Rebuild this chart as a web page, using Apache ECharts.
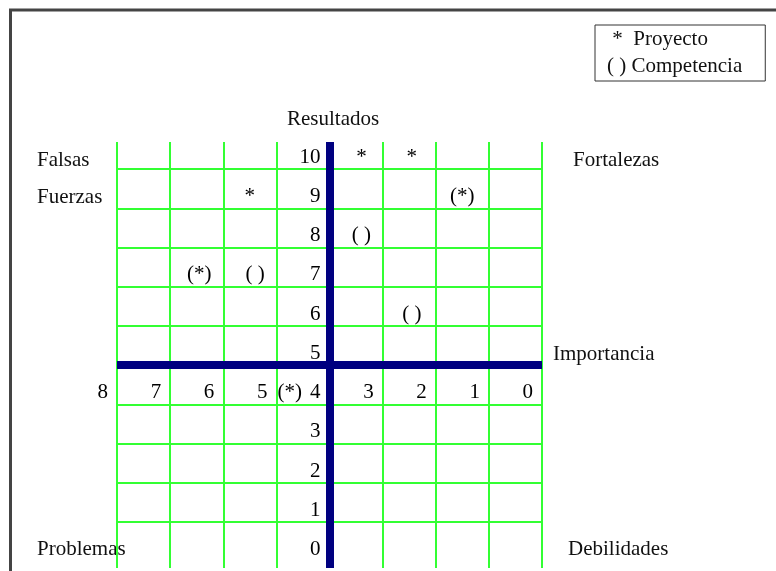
<!DOCTYPE html>
<html>
<head>
<meta charset="utf-8">
<script src="https://cdn.jsdelivr.net/npm/echarts@6/dist/echarts.min.js"></script>
<style>
  html, body { margin: 0; padding: 0; background: #fff; }
  #chart { width: 776px; height: 571px; }
</style>
</head>
<body>
<div id="chart"></div>
<script>
// Importancia runs 8 -> 0 left to right, Resultados 0 -> 10 bottom to top
const importancia = [8, 7, 6, 5, 4, 3, 2, 1, 0];
const resultados = [10, 9, 8, 7, 6, 5, 4, 3, 2, 1, 0];
// row boundaries of the table
const filas = [10, 9, 8, 7, 6, 5, 4, 3, 2, 1];
// crossing of the two thick axes
const cruce = { importancia: 4, resultados: 5 };

// marks: [importancia, resultados]
const proyecto = [[3.4, 10], [2.45, 10], [5.5, 9]];
const competencia = [[3.4, 8], [5.4, 7], [2.45, 6]];
const ambos = [[1.5, 9], [6.45, 7], [4.75, 4]];

const FONT = "'Liberation Serif', 'Times New Roman', serif";
const TXT = '#000';
const GREEN = '#33ff33';
const NAVY = '#000080';
const ROW = 0.3; // text sits a bit below row centre

const chart = echarts.init(document.getElementById('chart'), null, { renderer: 'canvas' });

const yLabels = resultados.map(r => ({ value: [cruce.importancia, r + ROW], name: String(r) }));
const xLabels = importancia
  .filter(i => i !== cruce.importancia)
  .map(i => ({ value: [i, cruce.resultados - 1 + ROW], name: String(i) }));

const textLabel = {
  show: true,
  color: TXT,
  opacity: 1,
  textBorderWidth: 0,
  fontFamily: FONT,
  fontSize: 21
};

const markSeries = (name, data, text) => ({
  name,
  type: 'scatter',
  symbolSize: 0,
  itemStyle: { opacity: 1, color: TXT },
  data: data.map(d => [d[0], d[1] + ROW]),
  label: Object.assign({}, textLabel, { position: 'inside', formatter: text }),
  emphasis: { disabled: true },
  z: 5
});

const quadrantText = (text, x, y) => ({
  type: 'text',
  x, y,
  style: { text, fill: '#111', font: '21px ' + FONT, verticalAlign: 'middle' }
});

const option = {
  animation: false,
  backgroundColor: '#fff',
  grid: { left: 117, right: 234, top: 142, bottom: 3 },
  xAxis: {
    type: 'value',
    min: 0,
    max: 8,
    interval: 1,
    inverse: true,
    axisLine: { show: false },
    axisTick: { show: false },
    axisLabel: { show: false },
    splitLine: { show: true, lineStyle: { color: GREEN, width: 2 } }
  },
  yAxis: {
    type: 'value',
    min: -0.17,
    max: 10.69,
    axisLine: { show: false },
    axisTick: { show: false },
    axisLabel: { show: false },
    splitLine: { show: false }
  },
  legend: {
    data: ['Proyecto', 'Competencia'],
    orient: 'vertical',
    left: 595,
    top: 25,
    selectedMode: false,
    itemWidth: 1,
    itemHeight: 1,
    itemGap: 6,
    itemStyle: { opacity: 0 },
    padding: [4, 23, 4, 6],
    borderColor: '#333',
    borderWidth: 1,
    backgroundColor: '#fff',
    formatter: name => name === 'Proyecto' ? ' *  Proyecto' : '( ) Competencia',
    textStyle: { color: '#111', fontFamily: FONT, fontSize: 21 }
  },
  graphic: [
    { type: 'line', shape: { x1: 9, y1: 10, x2: 776, y2: 10 }, style: { stroke: '#444', lineWidth: 3 } },
    { type: 'line', shape: { x1: 10.5, y1: 9, x2: 10.5, y2: 571 }, style: { stroke: '#444', lineWidth: 3 } },
    quadrantText('Resultados', 287, 119),
    quadrantText('Falsas', 37, 160),
    quadrantText('Fuerzas', 37, 197),
    quadrantText('Fortalezas', 573, 160),
    quadrantText('Importancia', 553, 354),
    quadrantText('Problemas', 37, 549),
    quadrantText('Debilidades', 568, 549)
  ],
  series: [
    {
      name: 'rejilla',
      type: 'scatter',
      symbolSize: 0,
      data: [],
      markLine: {
        silent: true,
        symbol: 'none',
        label: { show: false },
        lineStyle: { color: GREEN, width: 2, type: 'solid', opacity: 1 },
        data: filas.filter(f => f !== cruce.resultados).map(f => ({ yAxis: f }))
      },
      z: 1
    },
    {
      name: 'ejes',
      type: 'scatter',
      symbolSize: 0,
      itemStyle: { opacity: 1, color: TXT },
      data: yLabels.concat(xLabels),
      label: Object.assign({}, textLabel, { position: 'left', distance: 9, formatter: p => p.name }),
      emphasis: { disabled: true },
      markLine: {
        silent: true,
        symbol: 'none',
        label: { show: false },
        lineStyle: { color: NAVY, width: 8, type: 'solid', opacity: 1 },
        data: [{ xAxis: cruce.importancia }, { yAxis: cruce.resultados }]
      },
      z: 3
    },
    markSeries('Proyecto', proyecto, '*'),
    markSeries('Competencia', competencia, '( )'),
    markSeries('Ambos', ambos, '(*)')
  ]
};

chart.setOption(option);
</script>
</body>
</html>
